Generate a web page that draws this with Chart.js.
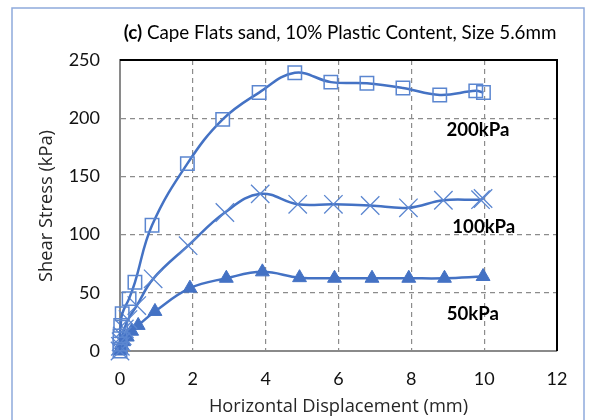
<!DOCTYPE html>
<html>
<head>
<meta charset="utf-8">
<script src="https://cdn.jsdelivr.net/npm/chart.js@4/dist/chart.umd.min.js"></script>
<style>
  html, body { margin: 0; padding: 0; background: #fff; }
  #wrap { position: relative; width: 591px; height: 420px; overflow: hidden; }
  canvas { position: absolute; left: 0; top: 0; }
</style>
</head>
<body>
<div id="wrap"><canvas id="c" width="591" height="420"></canvas></div>
<script>
// Direct shear test: shear stress vs horizontal displacement
const disp200 = [0, 0, 0, 0.02, 0.06, 0.25, 0.41, 0.88, 1.85, 2.82, 3.82, 4.80, 5.79, 6.78, 7.77, 8.78, 9.77, 9.98];
const stress200 = [0, 6, 13, 22, 32, 45, 59, 108, 161, 199, 222, 239, 231, 230, 226, 220, 223.5, 222];

const disp100 = [0, 0.01, 0.03, 0.06, 0.12, 0.22, 0.46, 0.91, 1.87, 2.88, 3.85, 4.88, 5.86, 6.87, 7.92, 8.88, 9.90, 9.97];
const stress100 = [0, 4, 8, 13, 19, 27, 39, 62, 90.5, 119, 135, 126, 126, 125, 123, 129.5, 130, 131];

const disp50 = [0, 0.02, 0.05, 0.1, 0.2, 0.32, 0.5, 0.96, 1.92, 2.92, 3.91, 4.93, 5.89, 6.92, 7.93, 8.91, 9.97];
const stress50 = [0, 2, 5, 8, 12, 17, 22, 34, 54, 62.5, 68, 63, 62.5, 62.5, 62.5, 62.5, 64];

const xTicks = [0, 2, 4, 6, 8, 10, 12];
const yTicks = [0, 50, 100, 150, 200, 250];

const seriesNames = ['200kPa', '100kPa', '50kPa'];
// where each series name sits, in data units
const nameAnchors = [[9.83, 190], [9.99, 106.5], [9.69, 32]];

const BLUE = '#4472C4';
const FONT = 'Lato, "Open Sans", sans-serif';
const TITLE_FONT = '"Open Sans", Lato, sans-serif';

function pairs(xs, ys) { return xs.map((x, i) => ({ x: x, y: ys[i] })); }

// pick a font size so that a string spans the given width
function fitSize(ctx, text, weight, family, width) {
  ctx.font = weight + ' 20px ' + family;
  return 20 * width / ctx.measureText(text).width;
}

const decor = {
  id: 'decor',
  beforeDraw(chart) {
    const ctx = chart.ctx;
    ctx.save();
    ctx.fillStyle = '#fff';
    ctx.fillRect(0, 0, chart.width, chart.height);
    ctx.restore();
  },
  afterDatasetsDraw(chart) {
    const ctx = chart.ctx;
    const a = chart.chartArea;
    const xs = chart.scales.x, ys = chart.scales.y;
    ctx.save();
    // plot frame: top and right edges
    ctx.strokeStyle = '#000';
    ctx.lineWidth = 2;
    ctx.beginPath();
    ctx.moveTo(a.left, a.top);
    ctx.lineTo(a.right, a.top);
    ctx.lineTo(a.right, a.bottom);
    ctx.stroke();

    // outer chart frame
    ctx.strokeStyle = '#8FAADC';
    ctx.lineWidth = 1.5;
    ctx.strokeRect(12, 8, 572, 500);

    // title
    ctx.fillStyle = '#000';
    ctx.textBaseline = 'middle';
    ctx.textAlign = 'left';
    const boldPart = '(c)';
    const rest = ' Cape Flats sand, 10% Plastic Content, Size 5.6mm';
    const ts = 18.8;
    ctx.font = 'bold ' + ts + 'px ' + FONT;
    const wb = ctx.measureText(boldPart).width;
    ctx.font = ts + 'px ' + FONT;
    const wr = ctx.measureText(rest).width;
    const tx = 340 - (wb + wr) / 2;
    ctx.font = 'bold ' + ts + 'px ' + FONT;
    ctx.fillText(boldPart, tx, 33);
    ctx.font = ts + 'px ' + FONT;
    ctx.fillText(rest, tx + wb, 33);

    // axis titles
    ctx.fillStyle = '#262626';
    ctx.textAlign = 'center';
    const xt = 'Horizontal Displacement (mm)';
    const yt = 'Shear Stress (kPa)';
    ctx.font = fitSize(ctx, xt, 'normal', TITLE_FONT, 259).toFixed(1) + 'px ' + TITLE_FONT;
    ctx.fillText(xt, (a.left + a.right) / 2, 407);
    ctx.save();
    ctx.translate(47, 206);
    ctx.rotate(-Math.PI / 2);
    ctx.font = fitSize(ctx, yt, 'normal', TITLE_FONT, 152).toFixed(1) + 'px ' + TITLE_FONT;
    ctx.fillText(yt, 0, 0);
    ctx.restore();

    // series names
    ctx.fillStyle = '#000';
    ctx.font = 'bold 18.6px ' + FONT;
    seriesNames.forEach((n, i) => {
      const p = nameAnchors[i];
      ctx.fillText(n, xs.getPixelForValue(p[0]), ys.getPixelForValue(p[1]));
    });
    ctx.restore();
  }
};

const common = {
  showLine: true,
  borderColor: BLUE,
  borderWidth: 2.5,
  tension: 0.4,
  clip: false,
  pointBorderColor: BLUE
};

new Chart(document.getElementById('c'), {
  type: 'scatter',
  data: {
    datasets: [
      Object.assign({}, common, {
        label: seriesNames[0],
        data: pairs(disp200, stress200),
        pointStyle: 'rect',
        pointRadius: 9.5,
        pointBorderWidth: 1.5,
        pointBackgroundColor: 'rgba(0,0,0,0)',
        pointBorderColor: '#5B86D0'
      }),
      Object.assign({}, common, {
        label: seriesNames[1],
        data: pairs(disp100, stress100),
        pointStyle: 'crossRot',
        pointRadius: 13,
        pointBorderWidth: 1.3,
        pointBorderColor: '#5B86D0'
      }),
      Object.assign({}, common, {
        label: seriesNames[2],
        data: pairs(disp50, stress50),
        pointStyle: 'triangle',
        pointRadius: 8,
        pointBorderWidth: 1,
        pointBackgroundColor: BLUE
      })
    ]
  },
  options: {
    responsive: false,
    devicePixelRatio: 1,
    animation: false,
    layout: { padding: { top: 60, right: 34, left: 0, bottom: 0 } },
    plugins: { legend: { display: false }, tooltip: { enabled: false }, title: { display: false } },
    scales: {
      x: {
        type: 'linear',
        min: 0, max: 12,
        afterBuildTicks(s) { s.ticks = xTicks.map(v => ({ value: v })); },
        afterFit(s) { s.height = 69; },
        ticks: { font: { family: FONT, size: 18 }, color: '#111', padding: 17, maxRotation: 0 },
        grid: { color: '#8c8c8c', lineWidth: 1.2, drawTicks: false },
        border: { display: true, color: '#8a8a8a', width: 2, dash: [5, 4] }
      },
      y: {
        type: 'linear',
        min: 0, max: 250,
        afterBuildTicks(s) { s.ticks = yTicks.map(v => ({ value: v })); },
        afterFit(s) { s.width = 120; },
        ticks: { font: { family: FONT, size: 18 }, color: '#111', padding: 20 },
        grid: { color: '#8c8c8c', lineWidth: 1.2, drawTicks: false },
        border: { display: true, color: '#8a8a8a', width: 2, dash: [5, 4] }
      }
    }
  },
  plugins: [decor]
});
</script>
</body>
</html>
